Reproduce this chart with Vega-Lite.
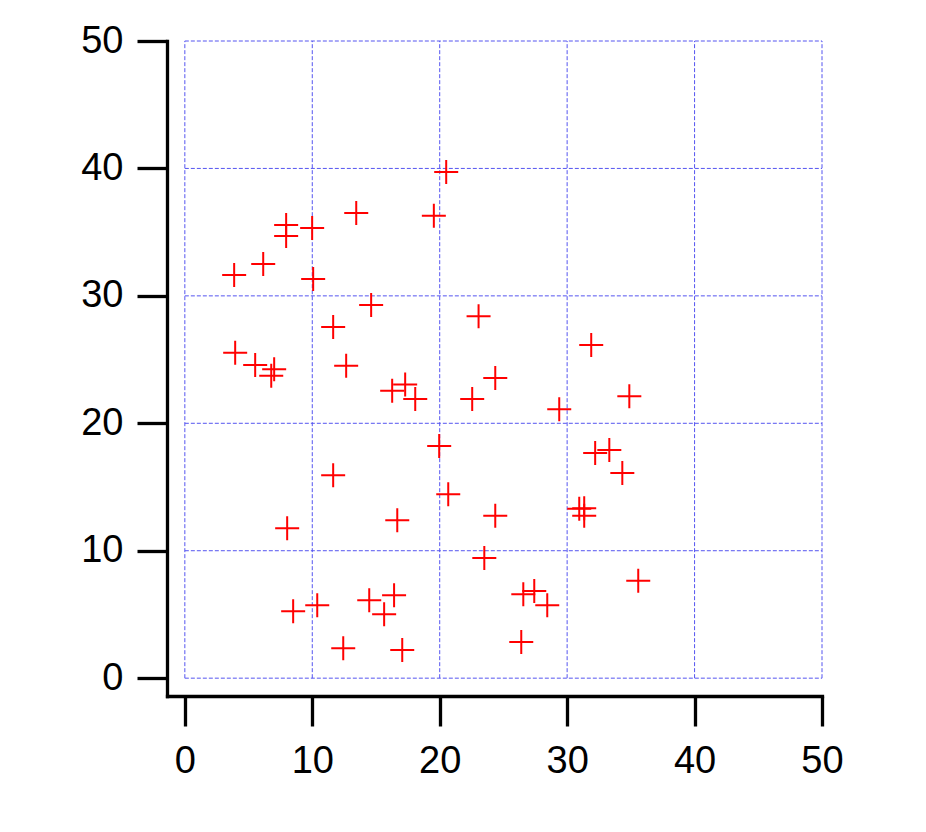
{
  "$schema": "https://vega.github.io/schema/vega-lite/v6.json",
  "autosize": {"type": "none"},
  "width": 655,
  "height": 655,
  "padding": {"left": 167, "top": 41, "right": 104, "bottom": 136},
  "background": "white",
  "config": {
    "view": {"stroke": null},
    "axis": {
      "grid": false,
      "domainColor": "black",
      "domainWidth": 3.3,
      "domainCap": "square",
      "tickColor": "black",
      "tickWidth": 3.3,
      "tickSize": 30,
      "labelFont": "Liberation Sans",
      "labelFontSize": 38,
      "labelColor": "black",
      "labelFlush": false,
      "labelOverlap": false
    },
    "axisX": {"labelPadding": 16},
    "axisY": {"labelPadding": 14}
  },
  "datasets": {
    "pts": [
      {"x": 20.51, "y": 39.72}, {"x": 13.45, "y": 36.5}, {"x": 19.54, "y": 36.29},
      {"x": 7.95, "y": 35.56}, {"x": 7.95, "y": 34.69}, {"x": 9.99, "y": 35.32},
      {"x": 6.15, "y": 32.5}, {"x": 3.87, "y": 31.63}, {"x": 10.07, "y": 31.32},
      {"x": 14.62, "y": 29.28}, {"x": 11.64, "y": 27.55}, {"x": 23.05, "y": 28.41},
      {"x": 3.95, "y": 25.53}, {"x": 5.52, "y": 24.57}, {"x": 7.01, "y": 24.25},
      {"x": 6.78, "y": 23.73}, {"x": 12.66, "y": 24.51}, {"x": 16.27, "y": 22.55},
      {"x": 17.29, "y": 23.05}, {"x": 18.08, "y": 21.9}, {"x": 22.55, "y": 21.9},
      {"x": 19.96, "y": 18.21}, {"x": 11.64, "y": 15.93}, {"x": 20.67, "y": 14.44},
      {"x": 16.67, "y": 12.4}, {"x": 8.03, "y": 11.77}, {"x": 23.5, "y": 9.42},
      {"x": 16.42, "y": 6.51}, {"x": 14.47, "y": 6.12}, {"x": 10.39, "y": 5.73},
      {"x": 8.5, "y": 5.26}, {"x": 15.64, "y": 5.02}, {"x": 12.43, "y": 2.35},
      {"x": 17.06, "y": 2.2}, {"x": 24.36, "y": 23.55}, {"x": 29.38, "y": 21.11},
      {"x": 34.88, "y": 22.13}, {"x": 31.89, "y": 26.14}, {"x": 32.2, "y": 17.66},
      {"x": 33.31, "y": 17.9}, {"x": 34.33, "y": 16.09}, {"x": 30.95, "y": 13.29},
      {"x": 31.34, "y": 13.34}, {"x": 31.34, "y": 12.74}, {"x": 24.36, "y": 12.74},
      {"x": 35.58, "y": 7.64}, {"x": 26.56, "y": 6.59}, {"x": 27.42, "y": 6.83},
      {"x": 28.44, "y": 5.73}, {"x": 26.4, "y": 2.83}
    ],
    "grid": [
      {"g": 0}, {"g": 10}, {"g": 20}, {"g": 30}, {"g": 40}, {"g": 50}
    ]
  },
  "layer": [
    {
      "data": {"name": "grid"},
      "mark": {"type": "rule", "color": "#5555f0", "strokeWidth": 1, "strokeDash": [4, 2]},
      "encoding": {
        "x": {"field": "g", "type": "quantitative", "scale": {"domain": [-1.4, 50], "nice": false, "zero": false}, "title": null, "axis": {"values": [0, 10, 20, 30, 40, 50]}},
        "y": {"datum": 0, "type": "quantitative", "title": null},
        "y2": {"datum": 50}
      }
    },
    {
      "data": {"name": "grid"},
      "mark": {"type": "rule", "color": "#5555f0", "strokeWidth": 1, "strokeDash": [4, 2]},
      "encoding": {
        "y": {"field": "g", "type": "quantitative", "scale": {"domain": [-1.4, 50], "nice": false, "zero": false}, "title": null, "axis": {"values": [0, 10, 20, 30, 40, 50]}},
        "x": {"datum": 0, "type": "quantitative", "title": null},
        "x2": {"datum": 50}
      }
    },
    {
      "data": {"name": "pts"},
      "mark": {"type": "point", "shape": "M-1,0H1M0,-1V1", "filled": false, "stroke": "#ff0000", "strokeWidth": 2, "size": 576, "opacity": 1},
      "encoding": {
        "x": {"field": "x", "type": "quantitative", "title": null},
        "y": {"field": "y", "type": "quantitative", "title": null}
      }
    }
  ]
}
